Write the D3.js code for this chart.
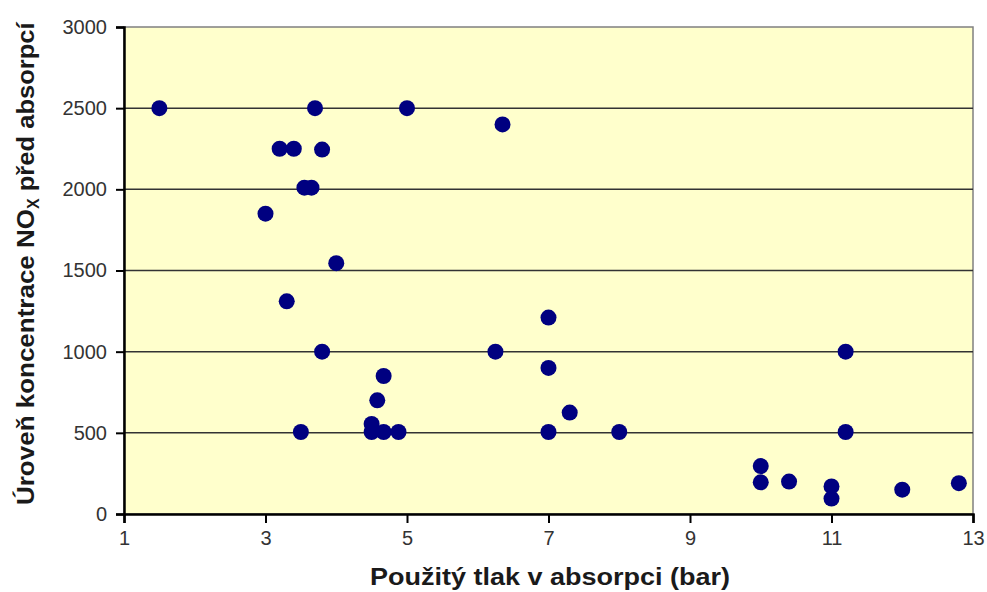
<!DOCTYPE html>
<html>
<head>
<meta charset="utf-8">
<script src="https://cdn.jsdelivr.net/npm/d3@7"></script>
<style>
  body { margin: 0; background: #fff; }
  svg { font-family: "Liberation Sans", Arial, sans-serif; }
</style>
</head>
<body>
<svg width="987" height="592"></svg>
<script>
// pressure in absorption (bar)
var pressure = [1.5, 3.0, 3.2, 3.4, 3.7, 3.8, 3.55, 3.65, 4.0, 3.3, 3.8, 3.5,
                5.0, 6.35, 4.67, 4.58, 4.5, 4.5, 4.67, 4.88, 6.25, 7.0, 7.0, 7.0,
                7.3, 8.0, 10.0, 10.0, 10.4, 11.0, 11.0, 11.2, 11.2, 12.0, 12.8];
// NOx level before absorption
var noxLevel = [2500, 1850, 2250, 2250, 2500, 2245, 2010, 2010, 1545, 1310, 1000, 505,
                2500, 2400, 850, 700, 555, 505, 505, 505, 1000, 1210, 900, 505,
                625, 505, 295, 195, 200, 170, 95, 1000, 505, 150, 190];
var xTicks = [1, 3, 5, 7, 9, 11, 13];
var yTicks = [0, 500, 1000, 1500, 2000, 2500, 3000];

var margin = {left: 124, top: 27, right: 14, bottom: 78};
var width = 987 - margin.left - margin.right,
    height = 592 - margin.top - margin.bottom;

var svg = d3.select("svg");
var g = svg.append("g").attr("transform", "translate(" + margin.left + "," + margin.top + ")");

var x = d3.scaleLinear().domain([1, 13]).range([0, width]);
var y = d3.scaleLinear().domain([0, 3000]).range([height, 0]);

// plot background
g.append("rect")
    .attr("width", width)
    .attr("height", height)
    .attr("fill", "#FFFFCC")
    .attr("stroke", "#808080")
    .attr("stroke-width", 1.5);

// gridlines
g.selectAll(".grid")
    .data(yTicks.filter(d => d > 0 && d < 3000))
    .enter().append("line")
    .attr("x1", 0).attr("x2", width)
    .attr("y1", d => y(d)).attr("y2", d => y(d))
    .attr("stroke", "#333")
    .attr("stroke-width", 1.5);

var xAxis = g.append("g")
    .attr("transform", "translate(0," + height + ")")
    .call(d3.axisBottom(x).tickValues(xTicks).tickSize(9).tickPadding(8).tickFormat(d3.format("d")));
var yAxis = g.append("g")
    .call(d3.axisLeft(y).tickValues(yTicks).tickSize(8).tickPadding(9).tickFormat(d3.format("d")));

[xAxis, yAxis].forEach(function(a) {
    a.select(".domain").attr("stroke", "#000").attr("stroke-width", 2.5);
    a.selectAll(".tick line").attr("stroke", "#000").attr("stroke-width", 2);
    a.selectAll(".tick text")
        .attr("fill", "#333")
        .style("font-size", "20px")
        .style("font-family", "Liberation Sans, Arial, sans-serif");
});

// points
g.selectAll(".dot")
    .data(pressure.map((p, i) => [p, noxLevel[i]]))
    .enter().append("circle")
    .attr("cx", d => x(d[0]))
    .attr("cy", d => y(d[1]))
    .attr("r", 8)
    .attr("fill", "#000080");

// axis titles
svg.append("text")
    .attr("x", 370)
    .attr("y", 585)
    .attr("textLength", 360)
    .attr("lengthAdjust", "spacingAndGlyphs")
    .attr("fill", "#1a1a1a")
    .style("font-size", "23px")
    .style("font-weight", "bold")
    .text("Použitý tlak v absorpci (bar)");

var yt = svg.append("text")
    .attr("transform", "translate(34,505) rotate(-90)")
    .attr("fill", "#1a1a1a")
    .style("font-size", "23px")
    .style("font-weight", "bold");
yt.append("tspan").attr("textLength", 296).attr("lengthAdjust", "spacingAndGlyphs").text("Úroveň koncentrace NO");
yt.append("tspan").attr("dy", 5).style("font-size", "16px").text("X");
yt.append("tspan").attr("dy", -5).attr("textLength", 176).attr("lengthAdjust", "spacingAndGlyphs").text(" před absorpcí");
</script>
</body>
</html>
